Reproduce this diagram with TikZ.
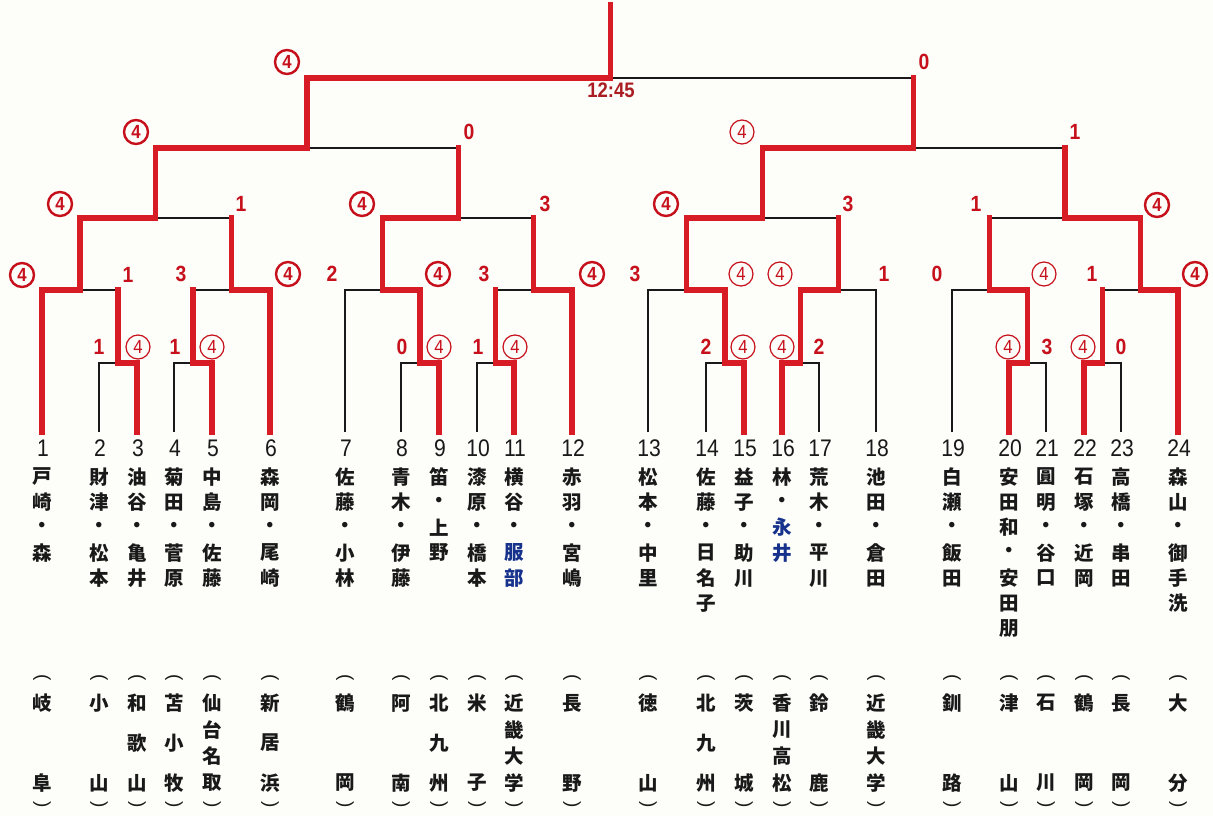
\documentclass[tikz,border=0pt]{standalone}
\usepackage{graphicx}
\usepackage{fontspec}
\newfontfamily\jpf{Noto Sans CJK JP}
\newfontfamily\sansf{Liberation Sans}
\newfontfamily\numf{Liberation Sans}[FakeStretch=0.88]
\definecolor{linered}{RGB}{215,28,38}
\definecolor{scorered}{RGB}{198,16,28}
\definecolor{timered}{RGB}{170,30,35}
\definecolor{textblack}{RGB}{25,25,25}
\definecolor{nameblue}{RGB}{22,50,140}
\definecolor{bg}{RGB}{253,253,249}
\newcommand\bl[1]{\textcolor{nameblue}{#1}}
\newcommand\vparen[1]{\rotatebox[origin=c]{-90}{#1}}
\tikzset{
  win/.style={draw=linered, line width=5.2pt, line join=miter, line cap=rect},
  lose/.style={draw=textblack, line width=1.6pt},
  sc/.style={text=scorered, font=\numf\bfseries\fontsize{22}{22}\selectfont, inner sep=0pt},
  circB/.style={circle, draw=scorered, line width=2.4pt, minimum size=24pt, inner sep=0pt, text=scorered, font=\numf\bfseries\fontsize{19}{19}\selectfont},
  circT/.style={circle, draw=scorered, line width=1.2pt, minimum size=24pt, inner sep=0pt, text=scorered, font=\numf\fontsize{19}{19}\selectfont},
  num/.style={font=\numf\fontsize{24}{24}\selectfont, text=textblack, inner sep=0pt},
  jp/.style={font=\jpf\bfseries\fontsize{19.5}{19.5}\selectfont, text=textblack, inner sep=0pt},
  paren/.style={font=\sansf\fontsize{19}{19}\selectfont, text=textblack, inner sep=0pt},
  timelbl/.style={font=\numf\bfseries\fontsize{21}{21}\selectfont, text=timered, inner sep=0pt}
}
\newcommand\player[5]{%
  \coordinate (b#1) at (#2,432);
  \node[num] (num#1) at (#2+1,448) {#1};
  \foreach \c [count=\i] in {#3} {\node[jp] (nm#1-\i) at (#2,{477+25.3*(\i-1)}) {\c};}
  \node[paren] (op#1) at (#2,679) {\vparen{(}};
  \foreach \c [count=\i] in {#4} {\node[jp] (sc#1-\i) at (#2,{703+80/(#5-1)*(\i-1)}) {\c};}
  \node[paren] (cp#1) at (#2,806) {\vparen{)}};
}
\begin{document}
\begin{tikzpicture}[x=1pt,y=-1pt]
\fill[bg] (0,0) rectangle (1213,816);
\useasboundingbox (0,0) rectangle (1213,816);

% players
\player{1}{42}{戸,崎,・,森}{岐,阜}{2}
\player{2}{99}{財,津,・,松,本}{小,山}{2}
\player{3}{137}{油,谷,・,亀,井}{和,歌,山}{3}
\player{4}{174}{菊,田,・,菅,原}{苫,小,牧}{3}
\player{5}{212}{中,島,・,佐,藤}{仙,台,名,取}{4}
\player{6}{270}{森,岡,・,尾,崎}{新,居,浜}{3}
\player{7}{345}{佐,藤,・,小,林}{鶴,岡}{2}
\player{8}{401}{青,木,・,伊,藤}{阿,南}{2}
\player{9}{439}{笛,・,上,野}{北,九,州}{3}
\player{10}{477}{漆,原,・,橋,本}{米,子}{2}
\player{11}{514}{横,谷,・,\bl{服},\bl{部}}{近,畿,大,学}{4}
\player{12}{572}{赤,羽,・,宮,嶋}{長,野}{2}
\player{13}{648}{松,本,・,中,里}{徳,山}{2}
\player{14}{706}{佐,藤,・,日,名,子}{北,九,州}{3}
\player{15}{744}{益,子,・,助,川}{茨,城}{2}
\player{16}{782}{林,・,\bl{永},\bl{井}}{香,川,高,松}{4}
\player{17}{819}{荒,木,・,平,川}{鈴,鹿}{2}
\player{18}{876}{池,田,・,倉,田}{近,畿,大,学}{4}
\player{19}{952}{白,瀬,・,飯,田}{釧,路}{2}
\player{20}{1009}{安,田,和,・,安,田,朋}{津,山}{2}
\player{21}{1046}{圓,明,・,谷,口}{石,川}{2}
\player{22}{1084}{石,塚,・,近,岡}{鶴,岡}{2}
\player{23}{1121}{高,橋,・,串,田}{長,岡}{2}
\player{24}{1178}{森,山,・,御,手,洗}{大,分}{2}

% match points
\coordinate (r1) at (118,363);
\coordinate (r2) at (193,363);
\coordinate (r3) at (420,363);
\coordinate (r4) at (495.5,363);
\coordinate (r5) at (725,363);
\coordinate (r6) at (800.5,363);
\coordinate (r7) at (1027.5,363);
\coordinate (r8) at (1102.5,363);
\coordinate (s1) at (80,290);
\coordinate (s2) at (231.5,290);
\coordinate (s3) at (382.5,290);
\coordinate (s4) at (533.75,290);
\coordinate (s5) at (686.5,290);
\coordinate (s6) at (838.25,290);
\coordinate (s7) at (989.75,290);
\coordinate (s8) at (1140.25,290);
\coordinate (q1) at (155.75,218);
\coordinate (q2) at (458.1,218);
\coordinate (q3) at (762.4,218);
\coordinate (q4) at (1065,218);
\coordinate (f1) at (306.9,148);
\coordinate (f2) at (913.7,148);
\coordinate (fin) at (610.3,78);
\coordinate (top) at (610.3,5);

% black bracket
\draw[lose] (b2) |- (r1) -| (b3);
\draw[lose] (b4) |- (r2) -| (b5);
\draw[lose] (b8) |- (r3) -| (b9);
\draw[lose] (b10) |- (r4) -| (b11);
\draw[lose] (b14) |- (r5) -| (b15);
\draw[lose] (b16) |- (r6) -| (b17);
\draw[lose] (b20) |- (r7) -| (b21);
\draw[lose] (b22) |- (r8) -| (b23);
\draw[lose] (b1) |- (s1) -| (r1);
\draw[lose] (r2) |- (s2) -| (b6);
\draw[lose] (b7) |- (s3) -| (r3);
\draw[lose] (r4) |- (s4) -| (b12);
\draw[lose] (b13) |- (s5) -| (r5);
\draw[lose] (r6) |- (s6) -| (b18);
\draw[lose] (b19) |- (s7) -| (r7);
\draw[lose] (r8) |- (s8) -| (b24);
\draw[lose] (s1) |- (q1) -| (s2);
\draw[lose] (s3) |- (q2) -| (s4);
\draw[lose] (s5) |- (q3) -| (s6);
\draw[lose] (s7) |- (q4) -| (s8);
\draw[lose] (q1) |- (f1) -| (q2);
\draw[lose] (q3) |- (f2) -| (q4);
\draw[lose] (f1) |- (fin) -| (f2);

% winners (red)
\draw[win] (b3) |- (r1);
\draw[win] (b5) |- (r2);
\draw[win] (b9) |- (r3);
\draw[win] (b11) |- (r4);
\draw[win] (b15) |- (r5);
\draw[win] (b16) |- (r6);
\draw[win] (b20) |- (r7);
\draw[win] (b22) |- (r8);
\draw[win] (b1) |- (s1);
\draw[win] (b6) |- (s2);
\draw[win] (r3) |- (s3);
\draw[win] (b12) |- (s4);
\draw[win] (r5) |- (s5);
\draw[win] (r6) |- (s6);
\draw[win] (r7) |- (s7);
\draw[win] (b24) |- (s8);
\draw[win] (s1) |- (q1);
\draw[win] (s3) |- (q2);
\draw[win] (s5) |- (q3);
\draw[win] (s8) |- (q4);
\draw[win] (q1) |- (f1);
\draw[win] (q3) |- (f2);
\draw[win] (f1) |- (fin);
% losing matches still send their winner up
\draw[win] (r1) -- (r1 |- s1);
\draw[win] (r2) -- (r2 |- s2);
\draw[win] (r4) -- (r4 |- s4);
\draw[win] (r8) -- (r8 |- s8);
\draw[win] (s2) -- (s2 |- q1);
\draw[win] (s4) -- (s4 |- q2);
\draw[win] (s6) -- (s6 |- q3);
\draw[win] (s7) -- (s7 |- q4);
\draw[win] (q2) -- (q2 |- f1);
\draw[win] (q4) -- (q4 |- f2);
\draw[win] (f2) -- (f2 |- fin);
\draw[win] (fin) -- (top);

\node[timelbl] (time) at (611,90) {12:45};

% scores: final
\node[circB] (k1) at (287,62) {4};
\node[sc] (k2) at (924,62) {0};
% semifinals
\node[circB] (k3) at (136,132) {4};
\node[sc] (k4) at (469,132) {0};
\node[circT] (k5) at (742,132) {4};
\node[sc] (k6) at (1075,132) {1};
% quarterfinals
\node[circB] (k7) at (60,204) {4};
\node[sc] (k8) at (241,204) {1};
\node[circB] (k9) at (362,204) {4};
\node[sc] (k10) at (545,204) {3};
\node[circB] (k11) at (666,204) {4};
\node[sc] (k12) at (848,204) {3};
\node[sc] (k13) at (976,204) {1};
\node[circB] (k14) at (1157,205) {4};
% round 2
\node[circB] (k15) at (22,275) {4};
\node[sc] (k16) at (128,275) {1};
\node[sc] (k17) at (181,274) {3};
\node[circB] (k18) at (288,274) {4};
\node[sc] (k19) at (332,274) {2};
\node[circB] (k20) at (438,274) {4};
\node[sc] (k21) at (484,274) {3};
\node[circB] (k22) at (592,274) {4};
\node[sc] (k23) at (635,274) {3};
\node[circT] (k24) at (741,274) {4};
\node[circT] (k25) at (780,274) {4};
\node[sc] (k26) at (884,274) {1};
\node[sc] (k27) at (937,274) {0};
\node[circT] (k28) at (1044,274) {4};
\node[sc] (k29) at (1092,274) {1};
\node[circB] (k30) at (1195,274) {4};
% round 1
\node[sc] (k31) at (99,347) {1};
\node[circT] (k32) at (138,347) {4};
\node[sc] (k33) at (175,347) {1};
\node[circT] (k34) at (212,347) {4};
\node[sc] (k35) at (402,347) {0};
\node[circT] (k36) at (439,347) {4};
\node[sc] (k37) at (478,347) {1};
\node[circT] (k38) at (515,347) {4};
\node[sc] (k39) at (706,347) {2};
\node[circT] (k40) at (743,347) {4};
\node[circT] (k41) at (782,347) {4};
\node[sc] (k42) at (819,347) {2};
\node[circT] (k43) at (1008,347) {4};
\node[sc] (k44) at (1047,347) {3};
\node[circT] (k45) at (1083,347) {4};
\node[sc] (k46) at (1121,347) {0};
\end{tikzpicture}
\end{document}
